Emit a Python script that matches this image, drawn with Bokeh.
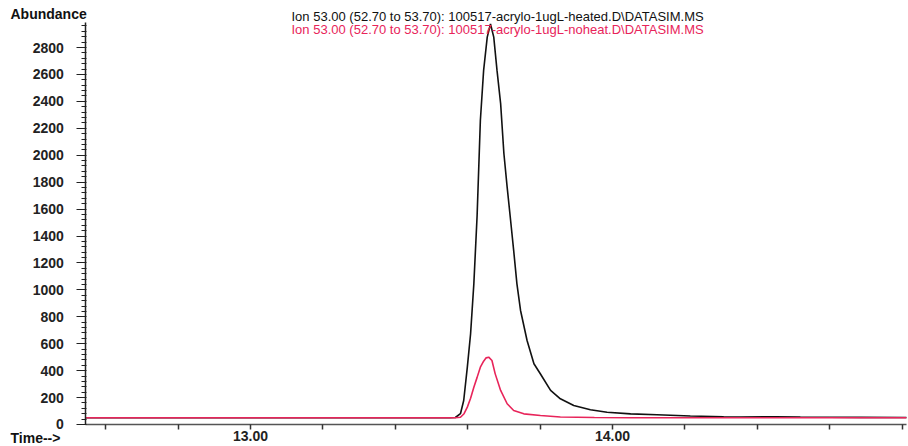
from bokeh.plotting import figure
from bokeh.models import FixedTicker, Label, Range1d, NumeralTickFormatter
from bokeh.embed import file_html
from bokeh.resources import INLINE

# ---- data ----
time_heated = [12.545, 13.40, 13.55, 13.566, 13.580, 13.589, 13.599, 13.608, 13.617, 13.626,
               13.635, 13.644, 13.654, 13.663, 13.672, 13.681, 13.691, 13.700, 13.709, 13.718,
               13.727, 13.736, 13.746, 13.764, 13.783, 13.801, 13.829, 13.856, 13.893, 13.939,
               13.985, 14.050, 14.123, 14.215, 14.307, 14.354, 14.450, 14.519, 14.600, 14.685, 14.812]
abund_heated = [50, 50, 50, 52, 80, 178, 426, 674, 1045, 1550,
                2258, 2630, 2877, 2975, 2877, 2630, 2383, 2013, 1763, 1530,
                1293, 1045, 847, 624, 451, 375, 253, 191, 141, 109,
                91, 79, 72, 63, 58, 56, 57, 55, 54, 53, 52]

time_noheat = [12.545, 13.40, 13.566, 13.580, 13.590, 13.599, 13.608, 13.617, 13.626, 13.635,
               13.644, 13.651, 13.658, 13.667, 13.676, 13.691, 13.709, 13.727, 13.755, 13.801,
               13.856, 13.950, 14.050, 14.812]
abund_noheat = [50, 50, 50, 54, 80, 129, 195, 277, 350, 426,
                470, 495, 500, 475, 376, 253, 154, 104, 79, 67,
                56, 52, 50, 50]

y_major_ticks = [0, 200, 400, 600, 800, 1000, 1200, 1400, 1600, 1800,
                 2000, 2200, 2400, 2600, 2800]
y_minor_ticks = list(range(0, 2961, 40))
x_major_ticks = [13.0, 14.0]
x_minor_ticks = [12.6, 12.8, 13.2, 13.4, 13.6, 13.8, 14.2, 14.4, 14.6, 14.8]

header_heated = "Ion  53.00 (52.70 to 53.70): 100517-acrylo-1ugL-heated.D\\DATASIM.MS"
header_noheat = "Ion  53.00 (52.70 to 53.70): 100517-acrylo-1ugL-noheat.D\\DATASIM.MS"
y_title = "Abundance"
x_title = "Time-->"

RED = "#e8245a"
FONT = "Liberation Sans"

# axis extents (data) and the full canvas view
X0, X1 = 12.545, 14.812
Y0, Y1 = 0, 2983

p = figure(width=908, height=446, output_backend="svg", toolbar_location=None,
           x_range=Range1d(12.3094, 14.8177), y_range=Range1d(-163.4, 3149.1),
           min_border=0, min_border_left=0, min_border_right=0,
           min_border_top=0, min_border_bottom=0)
p.outline_line_color = None
p.xgrid.visible = False
p.ygrid.visible = False
p.background_fill_color = "white"
p.border_fill_color = "white"

p.line(time_heated, abund_heated, line_color="#111111", line_width=1.6)
p.line(time_noheat, abund_noheat, line_color=RED, line_width=1.6)

# axes drawn inside the frame at fixed locations
xa = p.xaxis[0]
xa.fixed_location = Y0
xa.bounds = (X0, X1)
xa.ticker = FixedTicker(ticks=x_major_ticks, minor_ticks=x_minor_ticks)
xa.formatter = NumeralTickFormatter(format="0.00")
xa.major_tick_in = 0
xa.major_tick_out = 5
xa.minor_tick_in = 0
xa.minor_tick_out = 5
xa.axis_line_color = "#555555"
xa.axis_line_width = 1.5
xa.major_tick_line_color = "#333333"
xa.minor_tick_line_color = "#333333"
xa.major_tick_line_width = 1.5
xa.minor_tick_line_width = 1.5
xa.major_label_standoff = 2
xa.major_label_text_font = FONT
xa.major_label_text_font_style = "bold"
xa.major_label_text_font_size = "14px"
xa.major_label_text_color = "#222222"

ya = p.yaxis[0]
ya.fixed_location = X0
ya.bounds = (Y0, Y1)
ya.ticker = FixedTicker(ticks=y_major_ticks, minor_ticks=y_minor_ticks)
ya.formatter = NumeralTickFormatter(format="0")
ya.major_tick_in = 0
ya.major_tick_out = 9
ya.minor_tick_in = 1
ya.minor_tick_out = 4
ya.axis_line_color = "#222222"
ya.axis_line_width = 1.5
ya.major_tick_line_color = "#222222"
ya.minor_tick_line_color = "#222222"
ya.major_tick_line_width = 1.2
ya.minor_tick_line_width = 1.2
ya.major_label_standoff = 13
ya.major_label_text_font = FONT
ya.major_label_text_font_style = "bold"
ya.major_label_text_font_size = "14px"
ya.major_label_text_color = "#222222"

# titles and header lines
p.add_layout(Label(x=12.337, y=3047, text=y_title, text_font=FONT, text_font_style="bold",
                   text_font_size="14px", text_color="#111111", text_baseline="middle"))
p.add_layout(Label(x=12.337, y=-97, text=x_title, text_font=FONT, text_font_style="bold",
                   text_font_size="14px", text_color="#111111", text_baseline="middle"))
p.add_layout(Label(x=13.1133, y=3030, text=header_heated, text_font=FONT,
                   text_font_size="13px", text_color="#111111", text_baseline="middle"))
p.add_layout(Label(x=13.1133, y=2930, text=header_noheat, text_font=FONT,
                   text_font_size="13px", text_color=RED, text_baseline="middle"))

open("out.html", "w").write(file_html(p, INLINE))
